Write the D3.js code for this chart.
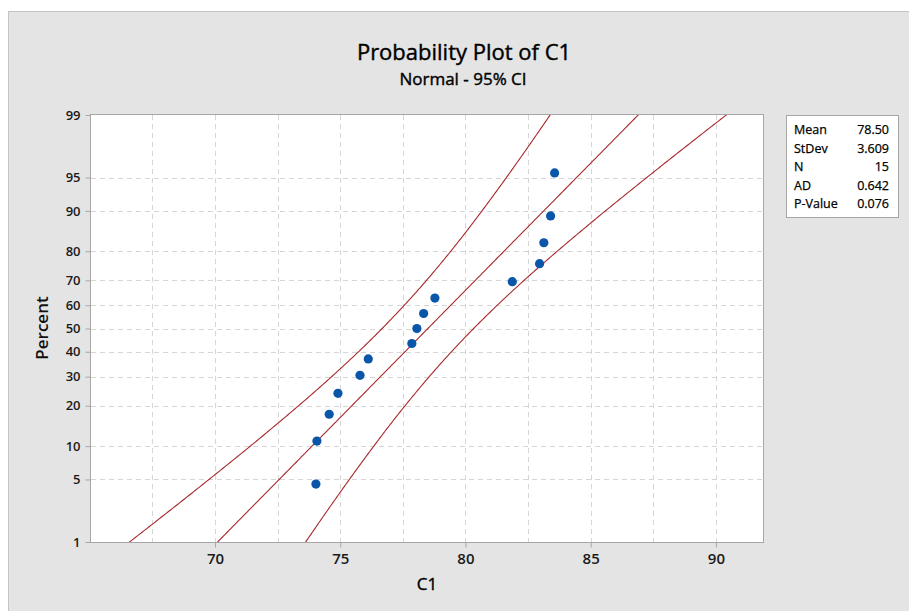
<!DOCTYPE html>
<html>
<head>
<meta charset="utf-8">
<script src="https://cdn.jsdelivr.net/npm/d3@7"></script>
<style>
  body { margin: 0; background: #fff; }
  svg { display: block; font-family: "Open Sans", "Noto Sans", sans-serif; }
  .medium { stroke: #000; stroke-width: 0.4px; }
</style>
</head>
<body>
<svg id="chart" width="909" height="611"></svg>
<script>
// sample values (C1), sorted
const c1Values = [74.03, 74.07, 74.56, 74.91, 75.79, 76.12, 77.86, 78.06, 78.33, 78.78, 81.87, 82.96, 83.13, 83.40, 83.56]
// plotting percent for each point
const percents = [4.5, 11.0, 17.5, 24.0, 30.5, 37.0, 43.5, 50.0, 56.5, 63.0, 69.5, 76.0, 82.5, 89.0, 95.5]

const xTicks = [70, 75, 80, 85, 90]
const xGrid = [67.5, 70, 72.5, 75, 77.5, 80, 82.5, 85, 87.5, 90]
const yTicks = [1, 5, 10, 20, 30, 40, 50, 60, 70, 80, 90, 95, 99]

const statLabels = ['Mean', 'StDev', 'N', 'AD', 'P-Value']
const statValues = ['78.50', '3.609', '15', '0.642', '0.076']

const mean = 78.50, stdev = 3.609, n = 15

// inverse normal cdf (Acklam)
function probit(p) {
    const a = [-39.6968302866538, 220.946098424521, -275.928510446969, 138.357751867269, -30.6647980661472, 2.50662827745924]
    const b = [-54.4760987982241, 161.585836858041, -155.698979859887, 66.8013118877197, -13.2806815528857]
    const c = [-0.00778489400243029, -0.322396458041136, -2.40075827716184, -2.54973253934373, 4.37466414146497, 2.93816398269878]
    const d = [0.00778469570904146, 0.32246712907004, 2.445134137143, 3.75440866190742]
    const pl = 0.02425
    let q, r
    if (p < pl) {
        q = Math.sqrt(-2 * Math.log(p))
        return (((((c[0]*q+c[1])*q+c[2])*q+c[3])*q+c[4])*q+c[5]) / ((((d[0]*q+d[1])*q+d[2])*q+d[3])*q+1)
    } else if (p <= 1 - pl) {
        q = p - 0.5; r = q * q
        return (((((a[0]*r+a[1])*r+a[2])*r+a[3])*r+a[4])*r+a[5])*q / (((((b[0]*r+b[1])*r+b[2])*r+b[3])*r+b[4])*r+1)
    }
    q = Math.sqrt(-2 * Math.log(1 - p))
    return -(((((c[0]*q+c[1])*q+c[2])*q+c[3])*q+c[4])*q+c[5]) / ((((d[0]*q+d[1])*q+d[2])*q+d[3])*q+1)
}

const svg = d3.select('#chart')
const plot = { left: 91, top: 115, right: 763, bottom: 542 }

// gray panel
svg.append('rect')
    .attr('x', 8.5).attr('y', 11.5)
    .attr('width', 920).attr('height', 620)
    .attr('fill', '#e4e4e4')
    .attr('stroke', '#c4c4c4')

const x = d3.scaleLinear().domain([65.05, 91.88]).range([plot.left, plot.right])
const zScale = d3.scaleLinear().domain([probit(0.01), probit(0.99)]).range([plot.bottom, plot.top])
const y = pct => zScale(probit(pct / 100))

svg.append('rect')
    .attr('x', plot.left).attr('y', plot.top)
    .attr('width', plot.right - plot.left).attr('height', plot.bottom - plot.top)
    .attr('fill', '#fff')

svg.append('clipPath').attr('id', 'clip')
    .append('rect')
    .attr('x', plot.left).attr('y', plot.top)
    .attr('width', plot.right - plot.left).attr('height', plot.bottom - plot.top)

// grid
const grid = svg.append('g').attr('stroke', '#d6d6d6').attr('stroke-dasharray', '5,4')
grid.selectAll('.vg').data(xGrid).join('line')
    .attr('x1', d => Math.round(x(d)) + 0.5).attr('x2', d => Math.round(x(d)) + 0.5)
    .attr('y1', plot.top).attr('y2', plot.bottom)
grid.selectAll('.hg').data(yTicks.slice(1, -1)).join('line')
    .attr('y1', d => Math.round(y(d)) + 0.5).attr('y2', d => Math.round(y(d)) + 0.5)
    .attr('x1', plot.left).attr('x2', plot.right)

// fit line and 95% CI bands
const zs = d3.range(-3.2, 3.21, 0.02)
const line = d3.line().x(d => x(d[0])).y(d => zScale(d[1]))
const half = z => 1.96 * stdev * Math.sqrt(1 / n + z * z / (2 * n))
const curves = [
    zs.map(z => [mean + stdev * z, z]),
    zs.map(z => [mean + stdev * z - half(z), z]),
    zs.map(z => [mean + stdev * z + half(z), z])
]
svg.append('g').attr('clip-path', 'url(#clip)')
    .selectAll('path').data(curves).join('path')
    .attr('d', line)
    .attr('fill', 'none')
    .attr('stroke', '#a8282c')
    .attr('stroke-width', 1.1)

// points
svg.append('g').selectAll('circle').data(c1Values).join('circle')
    .attr('cx', d => x(d))
    .attr('cy', (d, i) => y(percents[i]))
    .attr('r', 4.6)
    .attr('fill', '#0a56a8')

// border
svg.append('rect')
    .attr('x', plot.left - 0.5).attr('y', plot.top - 0.5)
    .attr('width', plot.right - plot.left + 1).attr('height', plot.bottom - plot.top + 1)
    .attr('fill', 'none')
    .attr('stroke', '#a6a6a6')

// axes
const xAxis = svg.append('g')
    .attr('transform', `translate(0,${plot.bottom + 0.5})`)
    .call(d3.axisBottom(x).tickValues(xTicks).tickSize(5).tickPadding(6))
xAxis.select('.domain').remove()
xAxis.selectAll('line').attr('stroke', '#a6a6a6')
xAxis.selectAll('text')
    .attr('font-size', 15).attr('font-weight', 600).attr('fill', '#1a1a1a')
    .attr('font-family', '"Open Sans", sans-serif')

const yAxis = svg.append('g')
    .attr('transform', `translate(${plot.left - 0.5},0)`)
    .call(d3.axisLeft(zScale).tickValues(yTicks.map(t => probit(t / 100))).tickFormat((d, i) => yTicks[i]).tickSize(5).tickPadding(5))
yAxis.select('.domain').remove()
yAxis.selectAll('line').attr('stroke', '#a6a6a6')
yAxis.selectAll('text')
    .attr('font-size', 13).attr('font-weight', 600).attr('fill', '#1a1a1a')
    .attr('font-family', '"Open Sans", sans-serif')

// titles
svg.append('text')
    .attr('class', 'medium')
    .attr('x', 464).attr('y', 60)
    .attr('text-anchor', 'middle')
    .attr('font-size', 22)
    .attr('fill', '#000')
    .text('Probability Plot of C1')

svg.append('text')
    .attr('class', 'medium')
    .attr('x', 463).attr('y', 85)
    .attr('text-anchor', 'middle')
    .attr('font-size', 17)
    .attr('fill', '#000')
    .text('Normal - 95% CI')

svg.append('text')
    .attr('class', 'medium')
    .attr('x', 427).attr('y', 590)
    .attr('text-anchor', 'middle')
    .attr('font-size', 17)
    .attr('fill', '#000')
    .text('C1')

svg.append('text')
    .attr('transform', 'translate(48,328) rotate(-90)')
    .attr('text-anchor', 'middle')
    .attr('font-size', 17)
    .attr('font-weight', 600)
    .attr('fill', '#111')
    .text('Percent')

// stats box
const box = svg.append('g').attr('transform', 'translate(786,115)')
box.append('rect')
    .attr('x', 0.5).attr('y', 0.5)
    .attr('width', 112).attr('height', 102)
    .attr('fill', '#fff')
    .attr('stroke', '#a6a6a6')
box.selectAll('.lbl').data(statLabels).join('text')
    .attr('class', 'medium')
    .attr('x', 8).attr('y', (d, i) => 19 + i * 18.6)
    .attr('font-size', 12.5).attr('fill', '#000')
    .style('stroke-width', '0.25px')
    .text(d => d)
box.selectAll('.val').data(statValues).join('text')
    .attr('class', 'medium')
    .attr('x', 103).attr('y', (d, i) => 19 + i * 18.6)
    .attr('text-anchor', 'end')
    .attr('font-size', 12.5).attr('fill', '#000')
    .style('stroke-width', '0.25px')
    .text(d => d)
</script>
</body>
</html>
